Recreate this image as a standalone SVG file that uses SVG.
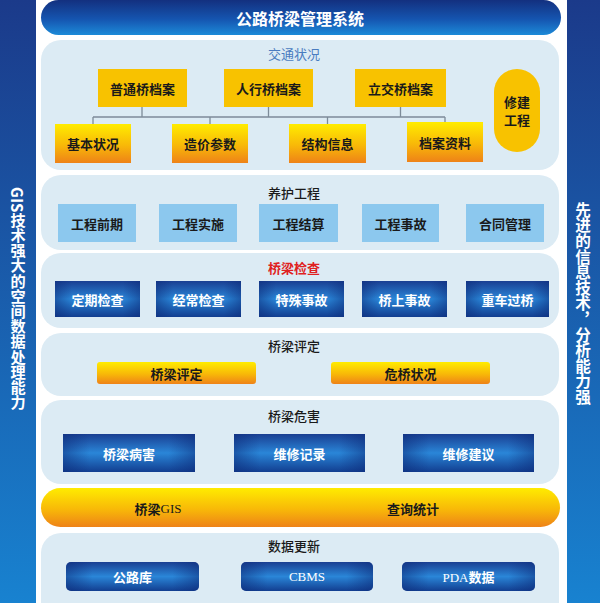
<svg xmlns="http://www.w3.org/2000/svg" width="600" height="603" viewBox="0 0 600 603">
<defs>
<linearGradient id="sideG" x1="0" y1="0" x2="0" y2="1">
<stop offset="0" stop-color="#1b3a8a"/><stop offset="1" stop-color="#1882d0"/>
</linearGradient>
<linearGradient id="titleG" x1="0" y1="0" x2="0" y2="1">
<stop offset="0" stop-color="#13307f"/><stop offset="0.55" stop-color="#1555b0"/><stop offset="1" stop-color="#1c8ad8"/>
</linearGradient>
<linearGradient id="yelG" x1="0" y1="0" x2="0" y2="1">
<stop offset="0" stop-color="#ffec00"/><stop offset="0.55" stop-color="#f8b808"/><stop offset="1" stop-color="#ee8218"/>
</linearGradient>
<linearGradient id="blueG" x1="0" y1="0" x2="0" y2="1">
<stop offset="0" stop-color="#1a3f92"/><stop offset="0.5" stop-color="#2a86d8"/><stop offset="1" stop-color="#123e90"/>
</linearGradient>
<linearGradient id="edgeG" x1="0" y1="0" x2="1" y2="0">
<stop offset="0" stop-color="#0c2a78" stop-opacity="0.5"/><stop offset="0.2" stop-color="#0c2a78" stop-opacity="0"/><stop offset="0.8" stop-color="#0c2a78" stop-opacity="0"/><stop offset="1" stop-color="#0c2a78" stop-opacity="0.5"/>
</linearGradient>
</defs>
<style>
text{font-family:"Noto Sans CJK SC","Noto Sans",sans-serif;text-anchor:middle;dominant-baseline:central}
.panel{fill:#dcebf4}
.gold{fill:#f8c200}
.yel{fill:url(#yelG)}
.lb{fill:#8cc8ee}
.db{fill:url(#blueG)}
.edge{fill:url(#edgeG)}
.t{font-size:13px;fill:#1a1a1a;font-weight:bold}
.w{font-size:13px;fill:#ffffff;font-weight:bold}
.pt{font-size:13px;fill:#1a1a1a;font-weight:500}
.lat{font-family:"Liberation Serif",serif;font-weight:normal}
.vert{writing-mode:vertical-rl;text-anchor:start;fill:#ffffff;font-weight:bold}
.conn{stroke:#7d8b99;stroke-width:1.3;fill:none}
</style>
<rect x="0" y="0" width="600" height="603" fill="#ffffff"/>
<g id="left-bar">
<rect x="0" y="0" width="36" height="603" fill="url(#sideG)"/>
<text class="vert" x="18" y="187" style="font-size:15.2px">GIS技术强大的空间数据处理能力</text>
</g>
<g id="right-bar">
<rect x="567" y="0" width="33" height="603" fill="url(#sideG)"/>
<text class="vert" x="583" y="202" style="font-size:15.6px">先进的信息技术，分析能力强</text>
</g>
<g id="title">
<rect x="41" y="0" width="520" height="35" rx="17.5" fill="url(#titleG)"/>
<text x="300" y="18" style="font-size:16px;fill:#ffffff;font-weight:bold">公路桥梁管理系统</text>
</g>
<g id="panel-traffic">
<rect class="panel" x="41" y="40" width="518" height="130" rx="20"/>
<text x="294" y="53" style="font-size:13px;fill:#4a7cc0">交通状况</text>
</g>
<g id="connectors">
<path class="conn" d="M93 117H445M142 107V117M268.5 107V117M400.5 107V117M93 117V124M210 117V124M327.5 117V124M445 117V122"/>
</g>
<g id="n-putong"><rect class="gold" x="98" y="69" width="89" height="38"/><text class="t" x="142.5" y="88">普通桥档案</text></g>
<g id="n-renxing"><rect class="gold" x="224" y="69" width="89" height="38"/><text class="t" x="268.5" y="88">人行桥档案</text></g>
<g id="n-lijiao"><rect class="gold" x="355" y="69" width="91" height="38"/><text class="t" x="400.5" y="88">立交桥档案</text></g>
<g id="n-xiujian"><rect class="gold" x="494" y="69" width="46" height="83" rx="23"/><text class="t" x="517" y="101">修建</text><text class="t" x="517" y="119">工程</text></g>
<g id="n-jiben"><rect class="yel" x="55" y="124" width="76" height="39"/><text class="t" x="93" y="143.5">基本状况</text></g>
<g id="n-zaojia"><rect class="yel" x="172" y="124" width="76" height="39"/><text class="t" x="210" y="143.5">造价参数</text></g>
<g id="n-jiegou"><rect class="yel" x="289" y="124" width="77" height="39"/><text class="t" x="327.5" y="143.5">结构信息</text></g>
<g id="n-dangan"><rect class="yel" x="407" y="122" width="76" height="40"/><text class="t" x="445" y="142">档案资料</text></g>

<g id="panel-maint">
<rect class="panel" x="41" y="175" width="518" height="75" rx="20"/>
<text class="pt" x="294" y="192">养护工程</text>
</g>
<g id="n-qianqi"><rect class="lb" x="58" y="204" width="78" height="38"/><text class="t" x="97" y="223">工程前期</text></g>
<g id="n-shishi"><rect class="lb" x="159" y="204" width="78" height="38"/><text class="t" x="198" y="223">工程实施</text></g>
<g id="n-jiesuan"><rect class="lb" x="259" y="204" width="79" height="38"/><text class="t" x="298.5" y="223">工程结算</text></g>
<g id="n-shigu"><rect class="lb" x="362" y="204" width="77" height="38"/><text class="t" x="400.5" y="223">工程事故</text></g>
<g id="n-hetong"><rect class="lb" x="466" y="204" width="78" height="38"/><text class="t" x="505" y="223">合同管理</text></g>

<g id="panel-inspect">
<rect class="panel" x="41" y="253" width="518" height="75" rx="20"/>
<text x="294" y="267" style="font-size:13px;fill:#e02020;font-weight:bold">桥梁检查</text>
</g>
<g id="n-dingqi"><rect class="db" x="55" y="281" width="85" height="36"/><rect class="edge" x="55" y="281" width="85" height="36"/><text class="w" x="97.5" y="299">定期检查</text></g>
<g id="n-jingchang"><rect class="db" x="156" y="281" width="85" height="36"/><rect class="edge" x="156" y="281" width="85" height="36"/><text class="w" x="198.5" y="299">经常检查</text></g>
<g id="n-teshu"><rect class="db" x="259" y="281" width="85" height="36"/><rect class="edge" x="259" y="281" width="85" height="36"/><text class="w" x="301.5" y="299">特殊事故</text></g>
<g id="n-qiaoshang"><rect class="db" x="362" y="281" width="85" height="36"/><rect class="edge" x="362" y="281" width="85" height="36"/><text class="w" x="404.5" y="299">桥上事故</text></g>
<g id="n-zhongche"><rect class="db" x="466" y="281" width="83" height="36"/><rect class="edge" x="466" y="281" width="83" height="36"/><text class="w" x="507.5" y="299">重车过桥</text></g>

<g id="panel-assess">
<rect class="panel" x="41" y="333" width="518" height="63" rx="20"/>
<text class="pt" x="294" y="345">桥梁评定</text>
</g>
<g id="n-pingding"><rect class="yel" x="97" y="362" width="159" height="22" rx="3"/><text class="t" x="176.5" y="373">桥梁评定</text></g>
<g id="n-weiqiao"><rect class="yel" x="331" y="362" width="159" height="22" rx="3"/><text class="t" x="410.5" y="373">危桥状况</text></g>

<g id="panel-hazard">
<rect class="panel" x="41" y="400" width="518" height="84" rx="20"/>
<text class="pt" x="294" y="415">桥梁危害</text>
</g>
<g id="n-binghai"><rect class="db" x="63" y="434" width="132" height="38"/><rect class="edge" x="63" y="434" width="132" height="38"/><text class="w" x="129" y="453">桥梁病害</text></g>
<g id="n-jilu"><rect class="db" x="234" y="434" width="131" height="38"/><rect class="edge" x="234" y="434" width="131" height="38"/><text class="w" x="299.5" y="453">维修记录</text></g>
<g id="n-jianyi"><rect class="db" x="403" y="434" width="131" height="38"/><rect class="edge" x="403" y="434" width="131" height="38"/><text class="w" x="468.5" y="453">维修建议</text></g>

<g id="gis-bar">
<rect class="yel" x="41" y="488" width="519" height="39" rx="19.5"/>
<text class="t" x="158" y="508">桥梁<tspan class="lat">GIS</tspan></text>
<text class="t" x="413" y="508">查询统计</text>
</g>

<g id="panel-update">
<rect class="panel" x="41" y="533" width="518" height="90" rx="20"/>
<text class="pt" x="294" y="545">数据更新</text>
</g>
<g id="n-gonglu"><rect class="db" x="66" y="562" width="133" height="29" rx="5"/><rect class="edge" x="66" y="562" width="133" height="29" rx="5"/><text class="w" x="132.5" y="576.5">公路库</text></g>
<g id="n-cbms"><rect class="db" x="241" y="562" width="132" height="29" rx="5"/><rect class="edge" x="241" y="562" width="132" height="29" rx="5"/><text class="w lat" x="307" y="576.5">CBMS</text></g>
<g id="n-pda"><rect class="db" x="402" y="562" width="133" height="29" rx="5"/><rect class="edge" x="402" y="562" width="133" height="29" rx="5"/><text class="w" x="468.5" y="576.5"><tspan class="lat">PDA</tspan>数据</text></g>
</svg>
